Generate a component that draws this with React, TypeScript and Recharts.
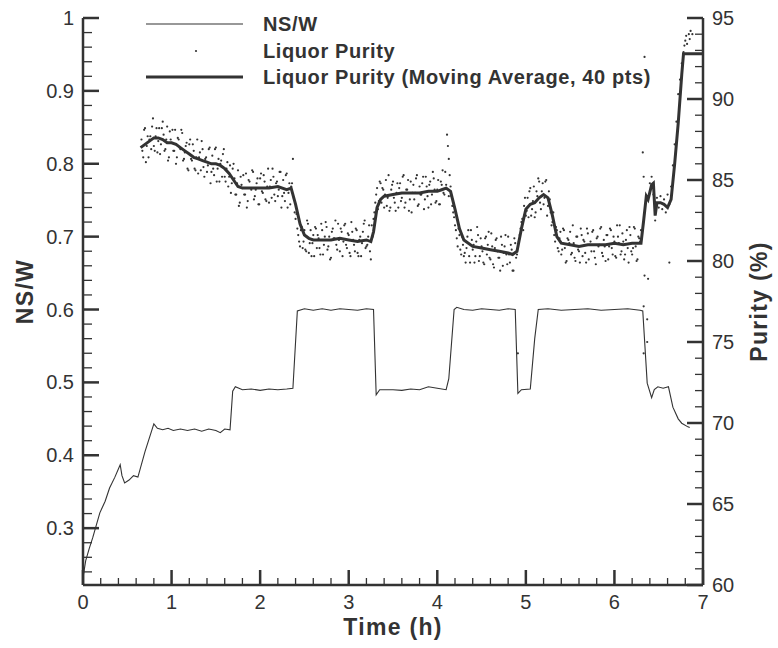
import { ComposedChart, Line, Scatter, XAxis, YAxis, Legend, Label } from "recharts";

const INK = "#333";
const FONT = "'Liberation Sans', Arial, Helvetica, sans-serif";

// tick positions
const xTicks = [0, 0.2, 0.4, 0.6, 0.8, 1, 1.2, 1.4, 1.6, 1.8, 2, 2.2, 2.4, 2.6, 2.8, 3, 3.2, 3.4, 3.6, 3.8, 4, 4.2, 4.4, 4.6, 4.8, 5, 5.2, 5.4, 5.6, 5.8, 6, 6.2, 6.4, 6.6, 6.8, 7];
const xMajor = [0, 1, 2, 3, 4, 5, 6, 7];
const nswTicks = [0.24, 0.26, 0.28, 0.3, 0.32, 0.34, 0.36, 0.38, 0.4, 0.42, 0.44, 0.46, 0.48, 0.5, 0.52, 0.54, 0.56, 0.58, 0.6, 0.62, 0.64, 0.66, 0.68, 0.7, 0.72, 0.74, 0.76, 0.78, 0.8, 0.82, 0.84, 0.86, 0.88, 0.9, 0.92, 0.94, 0.96, 0.98, 1];
const nswMajor = [0.3, 0.4, 0.5, 0.6, 0.7, 0.8, 0.9, 1];
const purTicks = [60, 61, 62, 63, 64, 65, 66, 67, 68, 69, 70, 71, 72, 73, 74, 75, 76, 77, 78, 79, 80, 81, 82, 83, 84, 85, 86, 87, 88, 89, 90, 91, 92, 93, 94, 95];
const purMajor = [60, 65, 70, 75, 80, 85, 90, 95];

// NS/W vs time [h, NS/W]
const nswPoints: [number, number][] = [
  [0.0, 0.232], [0.03, 0.255], [0.07, 0.272], [0.11, 0.287], [0.19, 0.321], [0.25, 0.337], [0.3, 0.355], [0.36, 0.37],
  [0.42, 0.387], [0.44, 0.372], [0.47, 0.362], [0.52, 0.366], [0.57, 0.372], [0.62, 0.37], [0.7, 0.405], [0.8, 0.443],
  [0.84, 0.437], [0.9, 0.435], [0.96, 0.437], [1.02, 0.434], [1.1, 0.436], [1.18, 0.434], [1.26, 0.436], [1.34, 0.433],
  [1.42, 0.436], [1.5, 0.434], [1.55, 0.431], [1.6, 0.436], [1.66, 0.435], [1.69, 0.488], [1.72, 0.494], [1.8, 0.49],
  [1.9, 0.491], [2.0, 0.489], [2.1, 0.491], [2.2, 0.49], [2.3, 0.491], [2.37, 0.492], [2.42, 0.598], [2.5, 0.601],
  [2.6, 0.599], [2.7, 0.601], [2.8, 0.599], [2.9, 0.601], [3.0, 0.6], [3.1, 0.599], [3.2, 0.601], [3.28, 0.6],
  [3.31, 0.483], [3.35, 0.49], [3.5, 0.49], [3.6, 0.489], [3.7, 0.491], [3.8, 0.49], [3.9, 0.494], [4.0, 0.492],
  [4.1, 0.49], [4.13, 0.505], [4.19, 0.6], [4.22, 0.603], [4.3, 0.6], [4.4, 0.599], [4.5, 0.601], [4.6, 0.6],
  [4.7, 0.599], [4.8, 0.601], [4.88, 0.6], [4.91, 0.485], [4.95, 0.49], [5.05, 0.491], [5.1, 0.56], [5.14, 0.6],
  [5.25, 0.601], [5.4, 0.599], [5.55, 0.6], [5.7, 0.601], [5.85, 0.599], [6.0, 0.6], [6.15, 0.601], [6.29, 0.599],
  [6.32, 0.598], [6.37, 0.499], [6.42, 0.479], [6.45, 0.49], [6.49, 0.494], [6.55, 0.492], [6.61, 0.494], [6.66, 0.466],
  [6.72, 0.45], [6.76, 0.444], [6.83, 0.439], [6.85, 0.438],
];

// liquor purity samples, even time stamps [h, %]
const purityA: [number, number][] = [
  [0.66, 87.5], [0.68, 86.4], [0.7, 88.2], [0.72, 87.1], [0.74, 86.4], [0.76, 87.7], [0.78, 88.3], [0.8, 87.1],
  [0.82, 87.7], [0.84, 86.7], [0.86, 88.2], [0.88, 87.2], [0.9, 88.6], [0.92, 86.8], [0.94, 87.5], [0.96, 86.2],
  [0.98, 88.0], [1.0, 87.3], [1.02, 86.8], [1.04, 88.1], [1.06, 86.4], [1.08, 87.5], [1.1, 86.9], [1.12, 87.9],
  [1.14, 86.3], [1.16, 87.1], [1.18, 85.7], [1.2, 87.2], [1.22, 86.3], [1.24, 87.2], [1.26, 85.7], [1.28, 86.4],
  [1.3, 85.4], [1.32, 86.7], [1.34, 87.4], [1.36, 85.8], [1.38, 86.3], [1.4, 85.5], [1.42, 86.9], [1.44, 84.8],
  [1.46, 86.5], [1.48, 85.3], [1.5, 87.0], [1.52, 85.7], [1.54, 84.9], [1.56, 86.2], [1.58, 86.6], [1.6, 85.2],
  [1.62, 85.7], [1.64, 84.6], [1.66, 85.9], [1.68, 84.8], [1.7, 86.0], [1.72, 84.1], [1.74, 84.8], [1.76, 83.4],
  [1.78, 85.2], [1.8, 84.5], [1.82, 84.1], [1.84, 85.4], [1.86, 83.7], [1.88, 84.9], [1.9, 84.4], [1.92, 85.5],
  [1.94, 84.0], [1.96, 84.8], [1.98, 83.5], [2.0, 85.1], [2.02, 84.3], [2.04, 85.3], [2.06, 83.8], [2.08, 84.6],
  [2.1, 83.6], [2.12, 85.0], [2.14, 85.7], [2.16, 84.1], [2.18, 84.8], [2.2, 84.0], [2.22, 85.5], [2.24, 83.3],
  [2.26, 85.0], [2.28, 83.7], [2.3, 85.4], [2.32, 84.2], [2.34, 83.5], [2.36, 84.8], [2.37, 86.3], [2.38, 83.9],
  [2.4, 82.6], [2.42, 82.0], [2.44, 81.2], [2.46, 81.9], [2.48, 80.8], [2.5, 81.9], [2.52, 80.6], [2.54, 82.3],
  [2.56, 81.1], [2.58, 80.3], [2.6, 81.6], [2.62, 82.1], [2.64, 80.8], [2.66, 81.4], [2.68, 80.4], [2.7, 81.9],
  [2.72, 81.0], [2.74, 82.4], [2.76, 80.7], [2.78, 81.5], [2.8, 80.2], [2.82, 82.0], [2.84, 81.4], [2.86, 81.0],
  [2.88, 82.3], [2.9, 80.6], [2.92, 81.8], [2.94, 81.2], [2.96, 82.3], [2.98, 80.8], [3.0, 81.6], [3.02, 80.3],
  [3.04, 81.8], [3.06, 81.0], [3.08, 82.0], [3.1, 80.5], [3.12, 81.3], [3.14, 80.3], [3.16, 81.8], [3.18, 82.5],
  [3.2, 80.9], [3.22, 81.5], [3.24, 80.6], [3.26, 82.2], [3.28, 82.6], [3.3, 83.6], [3.32, 84.5], [3.34, 83.7],
  [3.36, 84.8], [3.38, 84.5], [3.4, 83.3], [3.42, 85.0], [3.44, 83.9], [3.46, 83.1], [3.48, 84.4], [3.5, 84.9],
  [3.52, 83.6], [3.54, 84.2], [3.56, 83.3], [3.58, 84.8], [3.6, 83.9], [3.62, 85.3], [3.64, 83.6], [3.66, 84.4],
  [3.68, 83.1], [3.7, 84.9], [3.72, 84.2], [3.74, 83.8], [3.76, 85.1], [3.78, 83.4], [3.8, 84.6], [3.82, 84.1],
  [3.84, 85.2], [3.86, 83.8], [3.88, 84.6], [3.9, 83.3], [3.92, 84.9], [3.94, 84.1], [3.96, 85.1], [3.98, 83.6],
  [4.0, 84.4], [4.02, 83.5], [4.04, 84.9], [4.06, 85.6], [4.08, 84.1], [4.1, 84.7], [4.11, 87.8], [4.12, 87.1],
  [4.13, 86.3], [4.14, 85.3], [4.16, 84.0], [4.18, 83.0], [4.2, 82.2], [4.22, 81.4], [4.24, 82.0], [4.26, 80.7],
  [4.28, 81.5], [4.3, 80.3], [4.32, 79.9], [4.34, 81.5], [4.36, 80.3], [4.38, 81.9], [4.4, 80.7], [4.42, 79.9],
  [4.44, 81.2], [4.46, 81.6], [4.48, 80.3], [4.5, 80.9], [4.52, 79.9], [4.54, 81.4], [4.56, 80.4], [4.58, 81.8],
  [4.6, 80.1], [4.62, 80.9], [4.64, 79.6], [4.66, 81.3], [4.68, 80.6], [4.7, 80.2], [4.72, 81.5], [4.74, 79.7],
  [4.76, 80.9], [4.78, 80.4], [4.8, 81.5], [4.82, 79.9], [4.84, 80.7], [4.86, 79.4], [4.88, 81.1], [4.9, 80.4],
  [4.91, 74.3], [4.92, 81.2], [4.94, 82.0], [4.96, 82.6], [4.98, 83.4], [5.0, 82.8], [5.02, 83.9], [5.04, 84.3],
  [5.06, 82.8], [5.08, 83.7], [5.1, 82.7], [5.12, 84.3], [5.14, 85.1], [5.16, 83.6], [5.18, 84.3], [5.2, 83.5],
  [5.22, 84.9], [5.24, 82.8], [5.26, 84.3], [5.28, 83.0], [5.3, 82.4], [5.32, 81.6], [5.34, 82.1], [5.36, 80.8],
  [5.38, 81.4], [5.4, 80.4], [5.42, 82.0], [5.44, 80.8], [5.46, 80.0], [5.48, 81.3], [5.5, 81.8], [5.52, 80.5],
  [5.54, 81.1], [5.56, 80.0], [5.58, 81.5], [5.6, 80.6], [5.62, 82.0], [5.64, 80.3], [5.66, 81.2], [5.68, 79.9],
  [5.7, 81.7], [5.72, 81.0], [5.74, 80.6], [5.76, 81.9], [5.78, 80.2], [5.8, 81.4], [5.82, 80.9], [5.84, 82.0],
  [5.86, 80.5], [5.88, 81.3], [5.9, 80.0], [5.92, 81.6], [5.94, 80.9], [5.96, 81.9], [5.98, 80.4], [6.0, 81.2],
  [6.02, 80.2], [6.04, 81.5], [6.06, 82.2], [6.08, 80.6], [6.1, 81.2], [6.12, 80.4], [6.14, 81.9], [6.16, 79.9],
  [6.18, 81.6], [6.2, 80.4], [6.22, 82.1], [6.24, 80.9], [6.26, 80.1], [6.28, 81.4], [6.3, 81.9], [6.32, 86.7],
  [6.33, 85.2], [6.34, 92.6], [6.34, 79.1], [6.33, 77.2], [6.33, 74.3], [6.37, 76.4], [6.37, 75.0], [6.38, 78.9],
  [6.36, 83.9], [6.4, 84.8], [6.42, 85.2], [6.44, 84.1], [6.46, 82.5], [6.48, 83.9], [6.5, 83.3], [6.52, 84.0],
  [6.54, 83.2], [6.56, 83.8], [6.58, 83.0], [6.6, 84.1], [6.62, 79.9], [6.62, 83.5], [6.64, 84.6], [6.66, 85.9],
  [6.68, 87.2], [6.7, 88.6], [6.72, 90.3], [6.74, 91.2], [6.76, 92.2], [6.78, 92.9], [6.79, 93.3], [6.8, 93.6],
  [6.81, 93.9], [6.82, 93.4], [6.84, 94.0], [6.85, 93.7], [6.86, 94.2], [6.88, 94.0],
];

// liquor purity samples, odd time stamps [h, %]
const purityB: [number, number][] = [
  [0.67, 86.8], [0.69, 88.1], [0.71, 86.1], [0.73, 87.7], [0.75, 87.5], [0.77, 86.9], [0.79, 88.8], [0.81, 86.8],
  [0.83, 88.2], [0.85, 87.4], [0.87, 86.6], [0.89, 88.2], [0.91, 87.8], [0.93, 86.9], [0.95, 88.3], [0.97, 86.4],
  [0.99, 87.5], [1.01, 88.1], [1.03, 86.8], [1.05, 86.0], [1.07, 87.6], [1.09, 87.0], [1.11, 88.1], [1.13, 86.2],
  [1.15, 86.7], [1.17, 87.3], [1.19, 85.6], [1.21, 87.5], [1.23, 86.2], [1.25, 86.8], [1.27, 85.6], [1.29, 87.5],
  [1.31, 86.4], [1.33, 85.6], [1.35, 86.9], [1.37, 85.2], [1.39, 86.4], [1.41, 85.9], [1.43, 87.0], [1.45, 85.5],
  [1.47, 85.7], [1.49, 86.9], [1.51, 84.9], [1.53, 86.3], [1.55, 86.0], [1.57, 85.2], [1.59, 86.9], [1.61, 84.9],
  [1.63, 86.1], [1.65, 85.2], [1.67, 84.2], [1.69, 85.7], [1.71, 85.1], [1.73, 84.1], [1.75, 85.6], [1.77, 83.6],
  [1.79, 84.7], [1.81, 85.3], [1.83, 84.1], [1.85, 83.3], [1.87, 85.0], [1.89, 84.5], [1.91, 85.6], [1.93, 83.8],
  [1.95, 84.4], [1.97, 85.1], [1.99, 83.5], [2.01, 85.4], [2.03, 84.2], [2.05, 84.9], [2.07, 83.7], [2.09, 85.7],
  [2.11, 84.6], [2.13, 83.9], [2.15, 85.2], [2.17, 83.7], [2.19, 84.9], [2.21, 84.4], [2.23, 85.5], [2.25, 84.0],
  [2.27, 84.2], [2.29, 85.3], [2.31, 83.3], [2.33, 84.8], [2.35, 84.6], [2.39, 83.0], [2.41, 82.9], [2.43, 81.6],
  [2.45, 80.9], [2.47, 82.1], [2.49, 81.2], [2.51, 80.7], [2.53, 82.5], [2.55, 80.5], [2.57, 81.9], [2.59, 81.1],
  [2.61, 80.3], [2.63, 82.0], [2.65, 81.6], [2.67, 80.8], [2.69, 82.3], [2.71, 80.4], [2.73, 81.5], [2.75, 82.1],
  [2.77, 80.9], [2.79, 80.1], [2.81, 81.8], [2.83, 81.4], [2.85, 82.5], [2.87, 80.7], [2.89, 81.3], [2.91, 82.0],
  [2.93, 80.3], [2.95, 82.2], [2.97, 81.0], [2.99, 81.7], [3.01, 80.5], [3.03, 82.4], [3.05, 81.3], [3.07, 80.6],
  [3.09, 81.9], [3.11, 80.3], [3.13, 81.5], [3.15, 81.1], [3.17, 82.3], [3.19, 80.8], [3.21, 81.0], [3.23, 82.2],
  [3.25, 80.1], [3.27, 81.5], [3.29, 83.0], [3.31, 84.1], [3.33, 83.2], [3.35, 84.9], [3.37, 83.6], [3.39, 84.4],
  [3.41, 84.1], [3.43, 83.4], [3.45, 85.3], [3.47, 83.3], [3.49, 84.7], [3.51, 83.9], [3.53, 83.1], [3.55, 84.8],
  [3.57, 84.5], [3.59, 83.7], [3.61, 85.2], [3.63, 83.3], [3.65, 84.4], [3.67, 85.0], [3.69, 83.8], [3.71, 83.0],
  [3.73, 84.7], [3.75, 84.2], [3.77, 85.3], [3.79, 83.5], [3.81, 84.1], [3.83, 84.8], [3.85, 83.2], [3.87, 85.2],
  [3.89, 84.0], [3.91, 84.7], [3.93, 83.5], [3.95, 85.5], [3.97, 84.4], [3.99, 83.7], [4.01, 85.0], [4.03, 83.5],
  [4.05, 84.7], [4.07, 84.2], [4.09, 85.5], [4.13, 84.0], [4.15, 84.6], [4.17, 83.4], [4.19, 82.7], [4.21, 81.9],
  [4.23, 80.9], [4.25, 81.6], [4.27, 80.4], [4.29, 81.0], [4.31, 80.5], [4.33, 80.8], [4.35, 81.9], [4.37, 79.9],
  [4.39, 81.3], [4.41, 81.0], [4.43, 80.3], [4.45, 82.1], [4.47, 80.0], [4.49, 81.4], [4.51, 80.6], [4.53, 79.8],
  [4.55, 81.5], [4.57, 81.0], [4.59, 80.2], [4.61, 81.7], [4.63, 79.8], [4.65, 80.8], [4.67, 81.4], [4.69, 80.2],
  [4.71, 79.4], [4.73, 81.0], [4.75, 80.5], [4.77, 81.6], [4.79, 79.8], [4.81, 80.4], [4.83, 81.0], [4.85, 79.4],
  [4.87, 81.4], [4.89, 80.2], [4.93, 81.6], [4.95, 82.4], [4.97, 81.9], [4.99, 83.9], [5.01, 83.1], [5.03, 82.7],
  [5.05, 84.5], [5.07, 83.2], [5.09, 84.6], [5.11, 83.0], [5.13, 84.0], [5.15, 84.9], [5.17, 83.2], [5.19, 84.8],
  [5.21, 83.9], [5.23, 85.0], [5.25, 83.4], [5.27, 83.8], [5.29, 82.2], [5.31, 83.0], [5.33, 81.2], [5.35, 81.9],
  [5.37, 80.6], [5.39, 81.8], [5.41, 80.7], [5.43, 81.9], [5.45, 79.9], [5.47, 81.4], [5.49, 81.1], [5.51, 80.4],
  [5.53, 82.2], [5.55, 80.2], [5.57, 81.5], [5.59, 80.7], [5.61, 79.9], [5.63, 81.6], [5.65, 81.3], [5.67, 80.5],
  [5.69, 82.0], [5.71, 80.1], [5.73, 81.2], [5.75, 81.8], [5.77, 80.6], [5.79, 79.8], [5.81, 81.5], [5.83, 81.0],
  [5.85, 82.1], [5.87, 80.3], [5.89, 80.9], [5.91, 81.6], [5.93, 80.1], [5.95, 82.0], [5.97, 80.8], [5.99, 81.5],
  [6.01, 80.3], [6.03, 82.2], [6.05, 81.1], [6.07, 80.4], [6.09, 81.7], [6.11, 80.1], [6.13, 81.3], [6.15, 80.8],
  [6.17, 82.1], [6.19, 80.6], [6.21, 80.8], [6.23, 82.0], [6.25, 80.0], [6.27, 81.5], [6.29, 81.2],
];

// 40-point moving average of purity [h, %]
const avgPoints: [number, number][] = [
  [0.65, 87.0], [0.7, 87.2], [0.75, 87.4], [0.8, 87.6], [0.85, 87.6], [0.9, 87.5], [0.95, 87.3], [1.0, 87.3],
  [1.05, 87.2], [1.1, 87.0], [1.15, 86.8], [1.2, 86.6], [1.25, 86.4], [1.3, 86.3], [1.35, 86.2], [1.4, 86.1],
  [1.45, 86.0], [1.5, 86.0], [1.55, 85.9], [1.6, 85.7], [1.65, 85.4], [1.7, 85.0], [1.75, 84.6], [1.8, 84.5],
  [1.9, 84.5], [2.0, 84.5], [2.1, 84.5], [2.2, 84.6], [2.3, 84.4], [2.35, 84.5], [2.4, 83.5], [2.45, 82.3],
  [2.5, 81.6], [2.55, 81.4], [2.6, 81.3], [2.7, 81.3], [2.8, 81.3], [2.9, 81.4], [3.0, 81.3], [3.1, 81.2],
  [3.2, 81.3], [3.25, 81.2], [3.28, 81.8], [3.32, 83.3], [3.36, 83.8], [3.4, 84.0], [3.5, 84.1], [3.6, 84.2],
  [3.7, 84.2], [3.8, 84.2], [3.9, 84.3], [4.0, 84.3], [4.05, 84.4], [4.1, 84.5], [4.15, 84.3], [4.2, 83.2],
  [4.25, 82.0], [4.3, 81.3], [4.4, 80.9], [4.5, 80.8], [4.6, 80.7], [4.7, 80.6], [4.8, 80.5], [4.85, 80.4],
  [4.9, 80.6], [4.95, 82.0], [5.0, 83.2], [5.05, 83.5], [5.1, 83.6], [5.15, 83.9], [5.2, 84.1], [5.25, 83.9],
  [5.3, 82.8], [5.35, 81.5], [5.4, 81.1], [5.5, 81.0], [5.6, 80.9], [5.7, 81.0], [5.8, 81.0], [5.9, 81.0],
  [6.0, 81.1], [6.1, 81.0], [6.2, 81.1], [6.3, 81.1], [6.33, 82.5], [6.36, 84.0], [6.38, 83.8], [6.42, 84.7],
  [6.44, 84.8], [6.46, 82.8], [6.48, 83.6], [6.52, 83.6], [6.56, 83.5], [6.6, 83.3], [6.64, 83.8], [6.68, 86.0],
  [6.72, 88.5], [6.76, 91.5], [6.78, 92.8], [7.0, 92.8],
];

const nswData = nswPoints.map(([t, v]) => ({ t, v }));
const purityData = [...purityA, ...purityB].map(([t, p]) => ({ t, p }));
const avgData = avgPoints.map(([t, p]) => ({ t, p }));

const isMajor = (list: number[], v: number) => list.some((m) => Math.abs(m - v) < 1e-6);

const MARGIN = 9;

function LeftTick(props: any) {
  const { x, y, payload } = props;
  const major = isMajor(nswMajor, payload.value);
  const ax = x + MARGIN;
  return (
    <g>
      <line x1={ax} y1={y} x2={ax + (major ? 16 : 9)} y2={y} stroke={INK} strokeWidth={major ? 2.5 : 1.3} />
      {major && (
        <text x={x} y={y} textAnchor="end" dominantBaseline="central" fontSize={20} fontFamily={FONT} fill={INK}>
          {String(payload.value)}
        </text>
      )}
    </g>
  );
}

function RightTick(props: any) {
  const { x, y, payload } = props;
  const major = isMajor(purMajor, payload.value);
  const ax = x - MARGIN;
  return (
    <g>
      <line x1={ax} y1={y} x2={ax - (major ? 16 : 8)} y2={y} stroke={INK} strokeWidth={major ? 2.5 : 1.3} />
      {major && (
        <text x={x} y={y} textAnchor="start" dominantBaseline="central" fontSize={20} fontFamily={FONT} fill={INK}>
          {String(payload.value)}
        </text>
      )}
    </g>
  );
}

function BottomTick(props: any) {
  const { x, y, payload } = props;
  const major = isMajor(xMajor, payload.value);
  const ay = y - 10;
  return (
    <g>
      <line x1={x} y1={ay} x2={x} y2={ay - (major ? 15 : 7)} stroke={INK} strokeWidth={major ? 2.5 : 1.3} />
      {major && (
        <text x={x} y={y} dy="0.71em" textAnchor="middle" fontSize={20} fontFamily={FONT} fill={INK}>
          {String(payload.value)}
        </text>
      )}
    </g>
  );
}

const Dot = (props: any) => <circle cx={props.cx} cy={props.cy} r={1.1} fill={INK} />;

function LegendBox() {
  const txt = { fontSize: 20, fontFamily: FONT, fontWeight: 700, fill: INK, letterSpacing: 0.6 } as const;
  return (
    <svg width={778} height={100} style={{ display: "block", pointerEvents: "none" }}>
      <line x1={146} y1={24} x2={243} y2={24} stroke={INK} strokeWidth={1.2} />
      <text x={263} y={24} dominantBaseline="central" {...txt}>NS/W</text>
      <circle cx={196} cy={51} r={1.1} fill={INK} />
      <text x={263} y={51} dominantBaseline="central" {...txt}>Liquor Purity</text>
      <line x1={146} y1={77} x2={243} y2={77} stroke={INK} strokeWidth={3} />
      <text x={263} y={77} dominantBaseline="central" {...txt}>Liquor Purity (Moving Average, 40 pts)</text>
    </svg>
  );
}

const titleStyle = { fontSize: 23, fontFamily: FONT, fontWeight: 700, fill: INK, letterSpacing: 1.3 } as const;

export default function App() {
  return (
    <div style={{ position: "absolute", left: 0, top: 0, width: 778, height: 648, background: "#fff" }}>
      <ComposedChart width={778} height={648} margin={{ top: 18, right: 0, bottom: 0, left: 0 }}>
        <XAxis
          dataKey="t"
          type="number"
          domain={[0, 7]}
          ticks={xTicks}
          interval={0}
          height={63}
          tickSize={0}
          tickMargin={10}
          tickLine={false}
          tick={BottomTick}
          axisLine={{ stroke: INK, strokeWidth: 2.5 }}
        >
          <Label
            content={(p: any) => (
              <text x={p.viewBox.x + p.viewBox.width / 2} y={p.viewBox.y + 42} textAnchor="middle" dominantBaseline="central" {...titleStyle}>
                Time (h)
              </text>
            )}
          />
        </XAxis>
        <YAxis
          yAxisId="left"
          orientation="left"
          type="number"
          domain={[0.222, 1]}
          ticks={nswTicks}
          interval={0}
          width={83}
          tickSize={0}
          tickMargin={MARGIN}
          tickLine={false}
          tick={LeftTick}
          axisLine={{ stroke: INK, strokeWidth: 2.5 }}
        >
          <Label
            content={(p: any) => {
              const cx = 25;
              const cy = p.viewBox.y + p.viewBox.height / 2 - 10;
              return (
                <text x={cx} y={cy} transform={`rotate(-90 ${cx} ${cy})`} textAnchor="middle" dominantBaseline="central" {...titleStyle}>
                  NS/W
                </text>
              );
            }}
          />
        </YAxis>
        <YAxis
          yAxisId="right"
          orientation="right"
          type="number"
          domain={[60, 95]}
          ticks={purTicks}
          interval={0}
          width={75}
          tickSize={0}
          tickMargin={MARGIN}
          tickLine={false}
          tick={RightTick}
          axisLine={{ stroke: INK, strokeWidth: 2.5 }}
        >
          <Label
            content={(p: any) => {
              const cx = p.viewBox.x + 56;
              const cy = p.viewBox.y + p.viewBox.height / 2;
              return (
                <text x={cx} y={cy} transform={`rotate(-90 ${cx} ${cy})`} textAnchor="middle" dominantBaseline="central" {...titleStyle}>
                  Purity (%)
                </text>
              );
            }}
          />
        </YAxis>
        <Legend
          layout="vertical"
          align="center"
          verticalAlign="middle"
          wrapperStyle={{ left: 0, top: 0, width: 778 }}
          content={() => <LegendBox />}
        />
        <Line
          yAxisId="left"
          data={nswData}
          dataKey="v"
          type="linear"
          stroke={INK}
          strokeWidth={1.1}
          dot={false}
          activeDot={false}
          isAnimationActive={false}
        />
        <Scatter yAxisId="right" data={purityData} dataKey="p" shape={Dot} isAnimationActive={false} />
        <Line
          yAxisId="right"
          data={avgData}
          dataKey="p"
          type="linear"
          stroke={INK}
          strokeWidth={3}
          dot={false}
          activeDot={false}
          isAnimationActive={false}
        />
      </ComposedChart>
    </div>
  );
}
